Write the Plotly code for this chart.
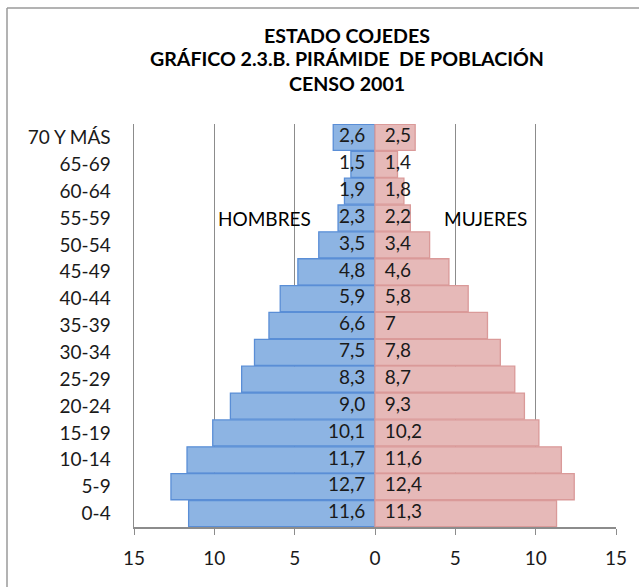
import plotly.graph_objects as go

age_groups = ["0-4", "5-9", "10-14", "15-19", "20-24", "25-29", "30-34", "35-39",
              "40-44", "45-49", "50-54", "55-59", "60-64", "65-69", "70 Y MÁS"]
hombres = [11.6, 12.7, 11.7, 10.1, 9.0, 8.3, 7.5, 6.6, 5.9, 4.8, 3.5, 2.3, 1.9, 1.5, 2.6]
mujeres = [11.3, 12.4, 11.6, 10.2, 9.3, 8.7, 7.8, 7, 5.8, 4.6, 3.4, 2.2, 1.8, 1.4, 2.5]
hombres_labels = ["11,6", "12,7", "11,7", "10,1", "9,0", "8,3", "7,5", "6,6", "5,9",
                  "4,8", "3,5", "2,3", "1,9", "1,5", "2,6"]
mujeres_labels = ["11,3", "12,4", "11,6", "10,2", "9,3", "8,7", "7,8", "7", "5,8",
                  "4,6", "3,4", "2,2", "1,8", "1,4", "2,5"]
x_ticks = [-15, -10, -5, 0, 5, 10, 15]
x_tick_labels = ["15", "10", "5", "0", "5", "10", "15"]
title_lines = ["ESTADO COJEDES", "GRÁFICO 2.3.B. PIRÁMIDE  DE POBLACIÓN", "CENSO 2001"]

FONT = "Lato"
FS = 19
TXT = "#1a1a1a"

fig = go.Figure()
fig.add_trace(go.Bar(
    y=age_groups, x=[-v for v in hombres], orientation="h", name="HOMBRES",
    marker=dict(color="#8DB4E3", line=dict(color="#5A8ED6", width=1.3)),
    hoverinfo="skip",
))
fig.add_trace(go.Bar(
    y=age_groups, x=mujeres, orientation="h", name="MUJERES",
    marker=dict(color="#E6B9B8", line=dict(color="#DA9A99", width=1.3)),
    hoverinfo="skip",
))
fig.add_trace(go.Scatter(
    y=age_groups, x=[-0.6] * len(age_groups), mode="text", text=hombres_labels,
    textposition="middle left", textfont=dict(family=FONT, size=FS, color=TXT),
    hoverinfo="skip", showlegend=False,
))
fig.add_trace(go.Scatter(
    y=age_groups, x=[0.6] * len(age_groups), mode="text", text=mujeres_labels,
    textposition="middle right", textfont=dict(family=FONT, size=FS, color=TXT),
    hoverinfo="skip", showlegend=False,
))

annotations = []
for i, (line, ypx) in enumerate(zip(title_lines, [35, 59, 84])):
    annotations.append(dict(
        text="<b>%s</b>" % line, xref="paper", yref="paper",
        x=(347 - 134) / (616 - 134), y=(527 - ypx) / (527 - 124),
        xanchor="center", yanchor="middle", showarrow=False,
        font=dict(family=FONT, size=19.6, color="#000000"),
    ))
annotations.append(dict(text="HOMBRES", x=-6.85, y="55-59", xref="x", yref="y",
                        showarrow=False, font=dict(family=FONT, size=FS, color="#000")))
annotations.append(dict(text="MUJERES", x=6.85, y="55-59", xref="x", yref="y",
                        showarrow=False, font=dict(family=FONT, size=FS, color="#000")))

shapes = [
    dict(type="line", xref="paper", yref="paper",
         x0=(7 - 134) / (616 - 134), x1=(700 - 134) / (616 - 134),
         y0=(527 - 8) / (527 - 124), y1=(527 - 8) / (527 - 124),
         line=dict(color="#9a9a9a", width=1.5)),
    dict(type="line", xref="paper", yref="paper",
         x0=(7 - 134) / (616 - 134), x1=(7 - 134) / (616 - 134),
         y0=(527 - 8) / (527 - 124), y1=(527 - 650) / (527 - 124),
         line=dict(color="#9a9a9a", width=1.5)),
]

fig.update_layout(
    width=639, height=587,
    margin=dict(l=134, r=23, t=124, b=60, autoexpand=False),
    paper_bgcolor="white", plot_bgcolor="white",
    barmode="relative", bargap=0.03,
    showlegend=False,
    font=dict(family=FONT, size=FS, color=TXT),
    annotations=annotations, shapes=shapes,
    xaxis=dict(
        range=[-15, 15], tickvals=x_ticks, ticktext=x_tick_labels,
        showgrid=True, gridcolor="#8c8c8c", gridwidth=1,
        zeroline=True, zerolinecolor="#8c8c8c", zerolinewidth=1.5,
        showline=True, linecolor="#8c8c8c", linewidth=1.5,
        ticks="outside", ticklen=6, tickcolor="#8c8c8c",
        ticklabelstandoff=8, automargin=False,
        tickfont=dict(family=FONT, size=FS, color=TXT),
        fixedrange=True,
    ),
    yaxis=dict(
        showgrid=False, showline=True, linecolor="#8c8c8c", linewidth=1.5,
        ticks="", ticklabelstandoff=18, automargin=False,
        tickfont=dict(family=FONT, size=FS, color=TXT),
        range=[-0.5, 14.5], fixedrange=True,
    ),
)

fig.write_html(
    "out.html",
    config={"displayModeBar": False, "staticPlot": True},
    post_script="document.body.style.margin='0';document.body.style.overflow='hidden';",
)
